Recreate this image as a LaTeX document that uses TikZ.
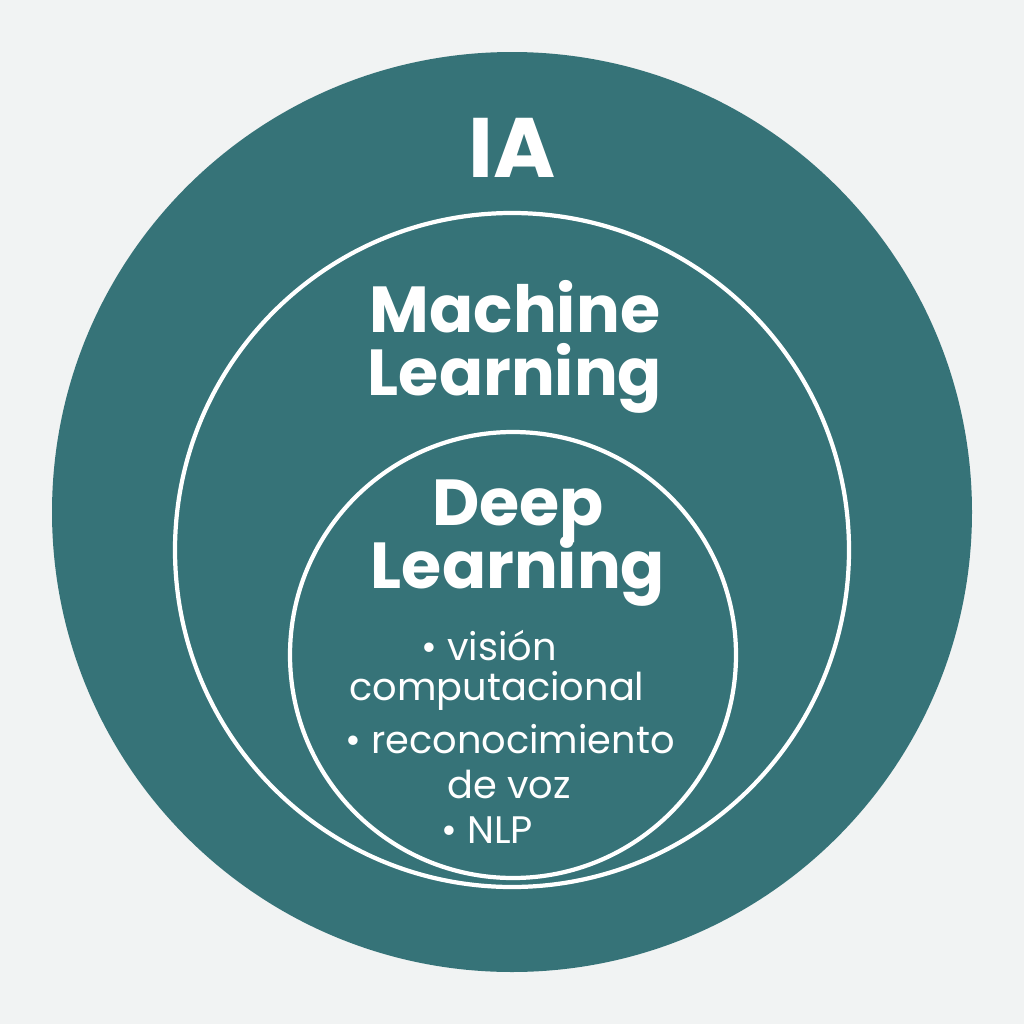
\documentclass[tikz,border=0pt]{standalone}
\usepackage{fontspec}
\setmainfont{Poppins}
\definecolor{bg}{HTML}{F1F3F3}
\definecolor{teal}{HTML}{367378}
\begin{document}
\begin{tikzpicture}[x=0.01cm,y=-0.01cm,
  ring/.style={draw=white,line width=1.2pt},
  big/.style={text=white,font=\fontsize{24}{24}\selectfont\bfseries},
  mid/.style={text=white,font=\fontsize{18.5}{20}\selectfont\bfseries,align=center},
  small/.style={text=white,font=\fontsize{10.9}{13}\selectfont}]
\fill[bg] (0,0) rectangle (1024,1024);
\fill[teal] (512,512) circle (460);
\draw[ring] (512,550) circle (337);
\draw[ring] (513,655) circle (223);
\node[big] (ia) at (512,148) {IA};
\node[mid] (ml) at (515,347) {Machine\\[-2pt]Learning};
\node[mid] (dl) at (518,543) {Deep\\[-2pt]Learning};
\node[small] (b1) at (489,646) {• visión};
\node[small] (b2) at (497,691) {computacional};
\node[small] (b3) at (510,739) {• reconocimiento};
\node[small] (b4) at (509,784) {de voz};
\node[small] (b5) at (487,830) {• NLP};
\end{tikzpicture}
\end{document}
